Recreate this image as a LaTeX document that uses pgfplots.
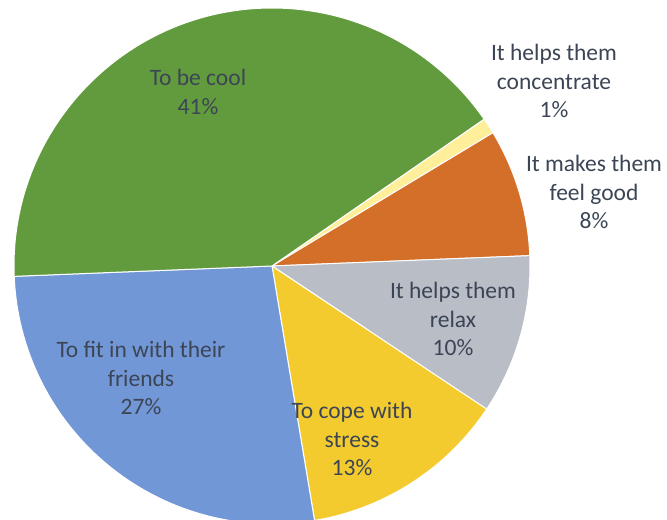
\documentclass[border=0pt]{standalone}
\usepackage{pgfplots}
\pgfplotsset{compat=1.18}
\usepackage{fontspec}
\setmainfont{Carlito}
\definecolor{cCool}{HTML}{629B3E}
\definecolor{cConc}{HTML}{FFEF9A}
\definecolor{cFeel}{HTML}{D46F29}
\definecolor{cRelax}{HTML}{B8BDC6}
\definecolor{cCope}{HTML}{F4CB2E}
\definecolor{cFit}{HTML}{7297D6}
\definecolor{txt}{HTML}{3C4555}
\begin{document}
\begin{tikzpicture}
\begin{axis}[width=667bp,height=520bp,scale only axis,hide axis,
  xmin=0,xmax=667,ymin=0,ymax=520,y dir=reverse,clip=true]
\path (axis cs:0,0) rectangle (axis cs:667,520);
% percentages: concentrate 1, feel good 8, relax 10, cope 13, fit in 27, cool 41
\fill[cConc,draw=white,line width=1bp] (axis cs:272,266) -- ++({34.7}:258bp) arc[start angle={34.7}, delta angle={-3.6*1}, radius=258bp] -- cycle;
\fill[cFeel,draw=white,line width=1bp] (axis cs:272,266) -- ++({34.7-3.6*1}:258bp) arc[start angle={34.7-3.6*1}, delta angle={-3.6*8}, radius=258bp] -- cycle;
\fill[cRelax,draw=white,line width=1bp] (axis cs:272,266) -- ++({34.7-3.6*9}:258bp) arc[start angle={34.7-3.6*9}, delta angle={-3.6*10}, radius=258bp] -- cycle;
\fill[cCope,draw=white,line width=1bp] (axis cs:272,266) -- ++({34.7-3.6*19}:258bp) arc[start angle={34.7-3.6*19}, delta angle={-3.6*13}, radius=258bp] -- cycle;
\fill[cFit,draw=white,line width=1bp] (axis cs:272,266) -- ++({34.7-3.6*32}:258bp) arc[start angle={34.7-3.6*32}, delta angle={-3.6*27}, radius=258bp] -- cycle;
\fill[cCool,draw=white,line width=1bp] (axis cs:272,266) -- ++({34.7-3.6*59}:258bp) arc[start angle={34.7-3.6*59}, delta angle={-3.6*41}, radius=258bp] -- cycle;
\tikzset{lbl/.style={align=center,text=txt,inner sep=0pt,font=\fontsize{23.5bp}{28.5bp}\selectfont}}
\node[lbl] at (axis cs:198,92) {To be cool\\41\%};
\node[lbl] at (axis cs:554,81) {It helps them\\concentrate\\1\%};
\node[lbl] at (axis cs:594,192) {It makes them\\feel good\\8\%};
\node[lbl] at (axis cs:453,319) {It helps them\\relax\\10\%};
\node[lbl] at (axis cs:352,439) {To cope with\\stress\\13\%};
\node[lbl] at (axis cs:141,378) {To fit in with their\\friends\\27\%};
\end{axis}
\end{tikzpicture}
\end{document}
